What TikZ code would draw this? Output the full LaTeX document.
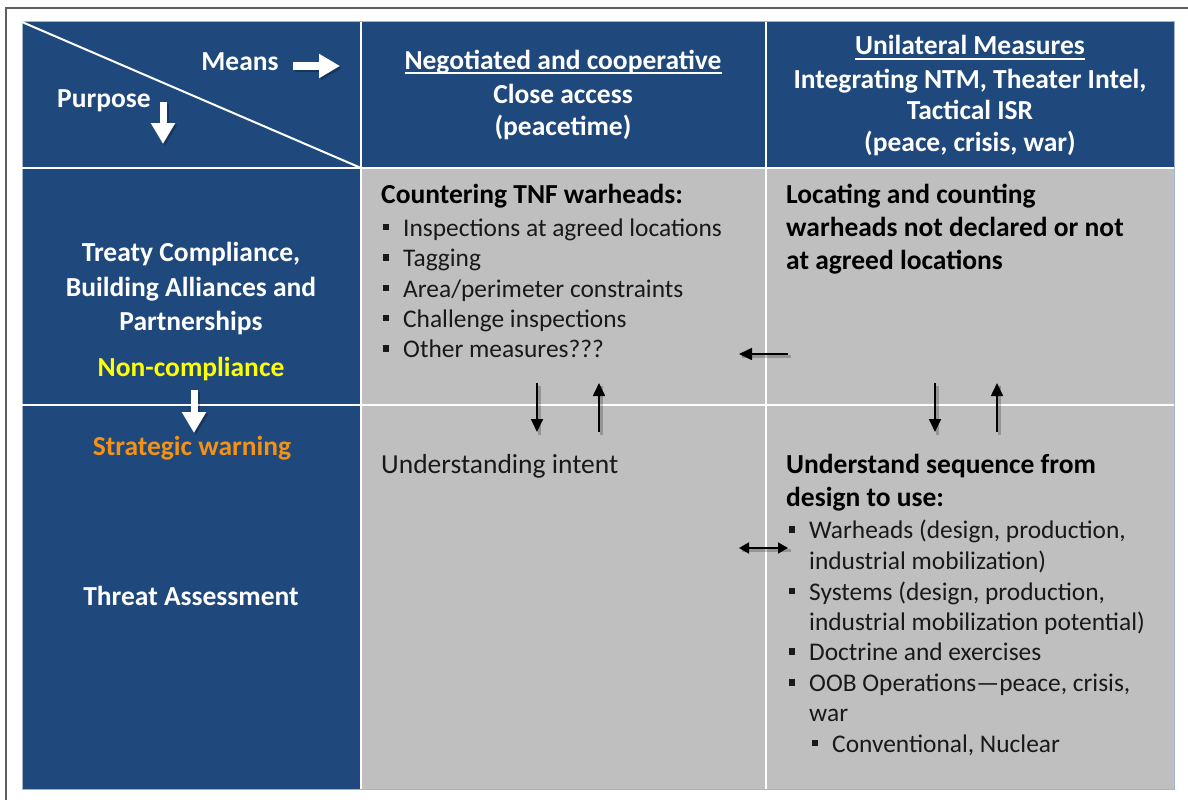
\documentclass[tikz,border=0pt]{standalone}
\usepackage{fontspec}
\setmainfont{Carlito}
\usetikzlibrary{arrows.meta}
\definecolor{navy}{RGB}{31,73,125}
\definecolor{cellgray}{RGB}{191,191,191}
\definecolor{warnorange}{RGB}{245,145,20}
\definecolor{ncyellow}{RGB}{255,255,0}
\definecolor{bodytext}{RGB}{25,25,25}
\definecolor{framegray}{RGB}{95,95,95}
\definecolor{edgeblue}{RGB}{160,180,210}
\newcommand\ulwhite[2]{\setbox0=\hbox{#2}\rlap{\rule[-#1]{\wd0}{1.5pt}}\box0}
\newcommand\sqbul{\llap{\rule[5.75pt]{6.5pt}{6.5pt}\hspace{14pt}}}
\begin{document}
\begin{tikzpicture}[x=1pt,y=-1pt,
  navycell/.style={fill=navy},
  graycell/.style={fill=cellgray},
  gridline/.style={white,line width=2.5pt},
  hdr/.style={inner sep=0pt,anchor=base,text=white,font=\fontsize{27.5}{33}\selectfont\bfseries},
  headb/.style={inner sep=0pt,anchor=base west,text=black,font=\fontsize{27.5}{33}\selectfont\bfseries},
  bigreg/.style={inner sep=0pt,anchor=base west,text=bodytext,font=\fontsize{27.5}{33}\selectfont},
  item/.style={inner sep=0pt,anchor=base west,text=bodytext,font=\fontsize{25.4}{30}\selectfont},
  whitearrow/.style={white,line width=#1},
  shadowarrow/.style={black,opacity=.22,line width=3pt},
  blackarrow/.style={black,line width=1.7pt,-{Triangle[length=13pt,width=12pt]}},
  dblarrow/.style={black,line width=1.7pt,{Triangle[length=10pt,width=11pt]}-{Triangle[length=10pt,width=11pt]}}
]
\useasboundingbox (0,0) rectangle (1188,800);
% outer frame
\draw[framegray,line width=1.5pt] (6,800) -- (6,8) -- (1188,8);
% cells
\fill[navycell] (22,22) rectangle (1174,168);
\fill[navycell] (22,168) rectangle (361,789);
\fill[graycell] (361,168) rectangle (1174,789);
\draw[edgeblue,line width=1pt] (22,22) rectangle (1174,789);
% grid
\draw[gridline] (361,22) -- (361,789);
\draw[gridline] (766,22) -- (766,789);
\draw[gridline] (22,168) -- (1174,168);
\draw[gridline] (22,405) -- (1174,405);
\draw[white,line width=2pt] (22,22) -- (361,168);

% header arrows (Means, Purpose)
\coordinate (meansA) at (293,66);
\coordinate (meansB) at (340,66);
\coordinate (purpA) at (163,102);
\coordinate (purpB) at (163,144);
\coordinate (ncA) at (194,390);
\coordinate (ncB) at (194,433);
\foreach \p/\q/\w in {meansA/meansB/8pt,purpA/purpB/7pt,ncA/ncB/7pt}{
  \draw[black,opacity=.25,line width=\w,-{Triangle[length=21pt,width=23pt]}] ([shift={(2,2)}]\p) -- ([shift={(2,2)}]\q);
  \draw[whitearrow=\w,-{Triangle[length=21pt,width=23pt]}] (\p) -- (\q);
}

% header texts
\node[hdr] (means) at (240,70.7) {Means};
\node[hdr] (purpose) at (104,107.3) {Purpose};
\node[hdr] (neg) at (563,69.3) {\ulwhite{4.5pt}{Negotiated and cooperative}};
\node[hdr] (close) at (563,103.3) {Close access};
\node[hdr] (peacetime) at (563,135.5) {(peacetime)};
\node[hdr] (uni) at (970,55) {\ulwhite{5pt}{Unilateral Measures}};
\node[hdr] (integ) at (970,88.3) {Integrating NTM, Theater Intel,};
\node[hdr] (tact) at (970,119.5) {Tactical ISR};
\node[hdr] (pcw) at (970,151.5) {(peace, crisis, war)};

% left column
\node[hdr] (treaty1) at (191,261.7) {Treaty Compliance,};
\node[hdr] (treaty2) at (191,296.5) {Building Alliances and};
\node[hdr] (treaty3) at (191,330) {Partnerships};
\node[hdr,text=ncyellow] (noncomp) at (191,376.5) {Non-compliance};
\node[hdr,text=warnorange] (strat) at (192,455) {Strategic warning};
\node[hdr] (threat) at (191,605) {Threat Assessment};

% row 2, column 2
\node[headb] (counter) at (381,203) {Countering TNF warheads:};
\node[item] (i1) at (403,236) {\sqbul Inspections at agreed locations};
\node[item] (i2) at (403,266.5) {\sqbul Tagging};
\node[item] (i3) at (403,297) {\sqbul Area/perimeter constraints};
\node[item] (i4) at (403,327) {\sqbul Challenge inspections};
\node[item] (i5) at (403,357.5) {\sqbul Other measures???};

% row 2, column 3
\node[headb] (loc1) at (786,203.3) {Locating and counting};
\node[headb] (loc2) at (786,236.7) {warheads not declared or not};
\node[headb] (loc3) at (786,269.5) {at agreed locations};

% row 3, column 2
\node[bigreg] (intent) at (381,473.3) {Understanding intent};

% row 3, column 3
\node[headb] (seq1) at (786,473.3) {Understand sequence from};
\node[headb] (seq2) at (786,506) {design to use:};
\node[item] (w1) at (809,538.3) {\sqbul Warheads (design, production,};
\node[item] (w2) at (809,569) {industrial mobilization)};
\node[item] (s1) at (809,600) {\sqbul Systems (design, production,};
\node[item] (s2) at (809,630) {industrial mobilization potential)};
\node[item] (d1) at (809,660.5) {\sqbul Doctrine and exercises};
\node[item] (o1) at (809,691.5) {\sqbul OOB Operations—peace, crisis,};
\node[item] (o2) at (809,721.7) {war};
\node[item] (cn) at (832,752) {\sqbul Conventional, Nuclear};

% black arrows
\coordinate (c2dA) at (537,383); \coordinate (c2dB) at (537,432);
\coordinate (c2uA) at (599,432); \coordinate (c2uB) at (599,383);
\coordinate (c3lA) at (788,354); \coordinate (c3lB) at (739,354);
\coordinate (c3dA) at (935,383); \coordinate (c3dB) at (935,432);
\coordinate (c3uA) at (997,432); \coordinate (c3uB) at (997,383);
\coordinate (dblA) at (739,548); \coordinate (dblB) at (788,548);
\foreach \p/\q in {c2dA/c2dB,c2uA/c2uB,c3lA/c3lB,c3dA/c3dB,c3uA/c3uB}{
  \draw[shadowarrow] ([shift={(2.5,2.5)}]\p) -- ([shift={(2.5,2.5)}]\q);
  \draw[blackarrow] (\p) -- (\q);
}
\draw[shadowarrow] ([shift={(2.5,2.5)}]dblA) -- ([shift={(2.5,2.5)}]dblB);
\draw[dblarrow] (dblA) -- (dblB);
\end{tikzpicture}
\end{document}
